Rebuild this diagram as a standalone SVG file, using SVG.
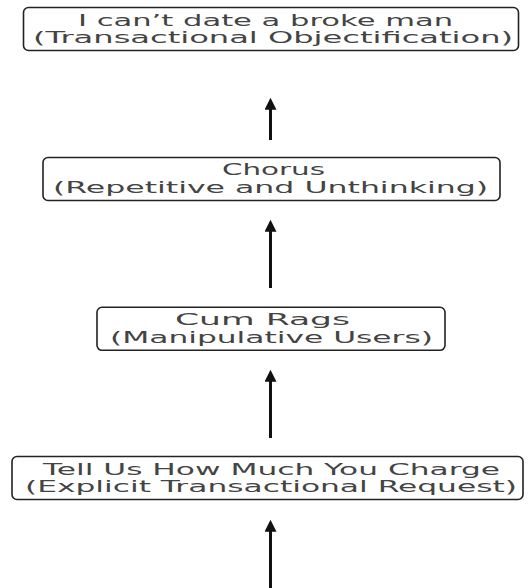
<svg xmlns="http://www.w3.org/2000/svg" width="530" height="588" viewBox="0 0 530 588">
<defs>
<style>
.box{fill:#fff;stroke:#222;stroke-width:1.6}
.t{font-family:"DejaVu Sans",sans-serif;font-size:16px;fill:#444}
.c{stroke:#111;stroke-width:3;fill:none;marker-end:url(#ah)}
</style>
<marker id="ah" viewBox="0 0 10 10" refX="4" refY="5" markerWidth="4" markerHeight="4" orient="auto" markerUnits="strokeWidth">
<path d="M0,0 L10,5 L0,10 z" fill="#111"/>
</marker>
</defs>
<rect width="530" height="588" fill="#fff"/>
<g id="connectors">
<line class="c" x1="270.5" y1="140" x2="270.5" y2="105"/>
<line class="c" x1="270.5" y1="288" x2="270.5" y2="227"/>
<line class="c" x1="270.5" y1="438" x2="270.5" y2="377"/>
<line class="c" x1="270.5" y1="590" x2="270.5" y2="527"/>
</g>
<g id="n1">
<rect class="box" x="23.5" y="7.5" width="495" height="43" rx="5"/>
<text class="t" x="78" y="25.5" textLength="375" lengthAdjust="spacingAndGlyphs">I can’t date a broke man</text>
<text class="t" x="33" y="42.7" textLength="480" lengthAdjust="spacingAndGlyphs">(Transactional Objectification)</text>
</g>
<g id="n2">
<rect class="box" x="43" y="157.5" width="457" height="43" rx="5"/>
<text class="t" x="222" y="175.3" textLength="103" lengthAdjust="spacingAndGlyphs">Chorus</text>
<text class="t" x="53" y="192.6" textLength="435" lengthAdjust="spacingAndGlyphs">(Repetitive and Unthinking)</text>
</g>
<g id="n3">
<rect class="box" x="97" y="307.3" width="348" height="43" rx="5"/>
<text class="t" x="175" y="325.3" textLength="175" lengthAdjust="spacingAndGlyphs">Cum Rags</text>
<text class="t" x="110" y="342.7" textLength="323" lengthAdjust="spacingAndGlyphs">(Manipulative Users)</text>
</g>
<g id="n4">
<rect class="box" x="12" y="456.5" width="511" height="43" rx="5"/>
<text class="t" x="43" y="474.5" textLength="457" lengthAdjust="spacingAndGlyphs">Tell Us How Much You Charge</text>
<text class="t" x="25" y="491.8" textLength="492" lengthAdjust="spacingAndGlyphs">(Explicit Transactional Request)</text>
</g>
</svg>
